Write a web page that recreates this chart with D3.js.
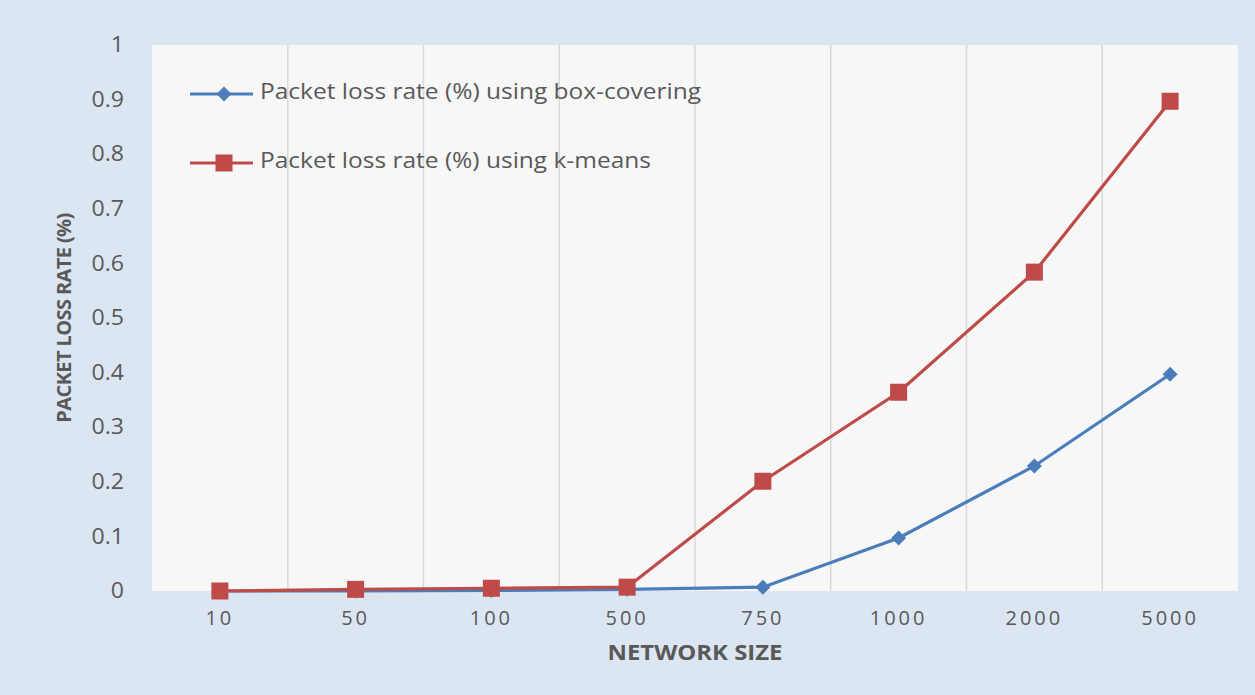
<!DOCTYPE html>
<html>
<head>
<meta charset="utf-8">
<script src="https://cdn.jsdelivr.net/npm/d3@7"></script>
<style>
  body { margin: 0; background: #fff; }
  svg { display: block; font-family: "Open Sans", "Liberation Sans", sans-serif; }
</style>
</head>
<body>
<svg width="1255" height="695"></svg>
<script>
var categories = ["10", "50", "100", "500", "750", "1000", "2000", "5000"];
var boxCovering = [0, 0, 0.001, 0.003, 0.007, 0.097, 0.229, 0.397];
var kMeans = [0, 0.003, 0.005, 0.007, 0.201, 0.364, 0.584, 0.897];
var yTicks = [0, 0.1, 0.2, 0.3, 0.4, 0.5, 0.6, 0.7, 0.8, 0.9, 1];

var series = [
    { name: "Packet loss rate (%) using box-covering", values: boxCovering, color: "#4a7ebb", shape: "diamond" },
    { name: "Packet loss rate (%) using k-means", values: kMeans, color: "#be4b48", shape: "square" }
];

var svg = d3.select("svg"),
    width = +svg.attr("width"),
    height = +svg.attr("height");

var margin = { top: 45, right: 17, bottom: 104, left: 152 };
var plotW = width - margin.left - margin.right,
    plotH = height - margin.top - margin.bottom;

// the original picture is a bit stretched sideways, so widen the text
function stretch(sel, factor) {
    sel.each(function() {
        var w = this.getComputedTextLength();
        d3.select(this)
            .attr("textLength", w * factor)
            .attr("lengthAdjust", "spacingAndGlyphs");
    });
}

svg.append("rect")
    .attr("x", 0).attr("y", 0)
    .attr("width", width).attr("height", height)
    .attr("fill", "#dce6f2");

var g = svg.append("g")
    .attr("transform", "translate(" + margin.left + "," + margin.top + ")");

g.append("rect")
    .attr("width", plotW).attr("height", plotH)
    .attr("fill", "#f7f7f7");

var x = d3.scaleBand()
    .domain(categories)
    .range([0, plotW]);

var y = d3.scaleLinear()
    .domain([0, 1])
    .range([plotH, 0]);

// vertical gridlines between categories
g.selectAll(".grid")
    .data(categories.slice(1))
    .enter().append("line")
    .attr("x1", function(d) { return x(d); })
    .attr("x2", function(d) { return x(d); })
    .attr("y1", 0).attr("y2", plotH)
    .attr("stroke", "#d9d9d9")
    .attr("stroke-width", 1.5);

var yAxis = g.append("g")
    .call(d3.axisLeft(y).tickValues(yTicks).tickSize(0).tickPadding(28)
        .tickFormat(function(d) { return d3.format("")(+d.toFixed(1)); }));
yAxis.select(".domain").remove();
yAxis.selectAll("text")
    .attr("fill", "#595959")
    .style("font-size", "21px")
    .style("font-family", "Open Sans, sans-serif")
    .call(stretch, 1.1);

var xAxis = g.append("g")
    .attr("transform", "translate(0," + plotH + ")")
    .call(d3.axisBottom(x).tickSize(0).tickPadding(20));
xAxis.select(".domain").remove();
xAxis.selectAll("text")
    .attr("fill", "#595959")
    .style("font-size", "20px")
    .style("letter-spacing", "3px")
    .style("font-family", "Open Sans, sans-serif");

svg.append("text")
    .attr("x", margin.left + plotW / 2)
    .attr("y", 660)
    .attr("text-anchor", "middle")
    .attr("fill", "#595959")
    .style("font-size", "21px")
    .style("font-weight", "bold")
    .attr("textLength", 175)
    .attr("lengthAdjust", "spacingAndGlyphs")
    .text("NETWORK SIZE");

svg.append("text")
    .attr("transform", "translate(71," + (margin.top + plotH / 2) + ") rotate(-90)")
    .attr("text-anchor", "middle")
    .attr("fill", "#595959")
    .style("font-size", "20px")
    .style("font-weight", "bold")
    .style("letter-spacing", "-0.6px")
    .text("PACKET LOSS RATE (%)");

var line = d3.line()
    .x(function(d, i) { return x(categories[i]) + x.bandwidth() / 2; })
    .y(function(d) { return y(d); });

function drawMarker(sel, shape, color) {
    if (shape === "square") {
        sel.append("rect")
            .attr("x", -8.5).attr("y", -8.5)
            .attr("width", 17).attr("height", 17)
            .attr("fill", color);
    } else {
        sel.append("path")
            .attr("d", "M0,-7.5L7.5,0L0,7.5L-7.5,0Z")
            .attr("fill", color);
    }
}

series.forEach(function(s) {
    g.append("path")
        .datum(s.values)
        .attr("d", line)
        .attr("fill", "none")
        .attr("stroke", s.color)
        .attr("stroke-width", 3.2);

    g.selectAll(".m-" + s.shape)
        .data(s.values)
        .enter().append("g")
        .attr("transform", function(d, i) {
            return "translate(" + (x(categories[i]) + x.bandwidth() / 2) + "," + y(d) + ")";
        })
        .each(function() { drawMarker(d3.select(this), s.shape, s.color); });
});

// legend
var legendWidths = [441, 391];
var legend = svg.append("g");
series.forEach(function(s, i) {
    var ly = 94 + i * 69;
    var item = legend.append("g");
    item.append("line")
        .attr("x1", 190).attr("x2", 253)
        .attr("y1", ly).attr("y2", ly)
        .attr("stroke", s.color)
        .attr("stroke-width", 3.2);
    drawMarker(item.append("g").attr("transform", "translate(224," + ly + ")"), s.shape, s.color);
    item.append("text")
        .attr("x", 260).attr("y", ly + 5)
        .attr("fill", "#595959")
        .style("font-size", "21px")
        .attr("textLength", legendWidths[i])
        .attr("lengthAdjust", "spacingAndGlyphs")
        .text(s.name);
});
</script>
</body>
</html>
